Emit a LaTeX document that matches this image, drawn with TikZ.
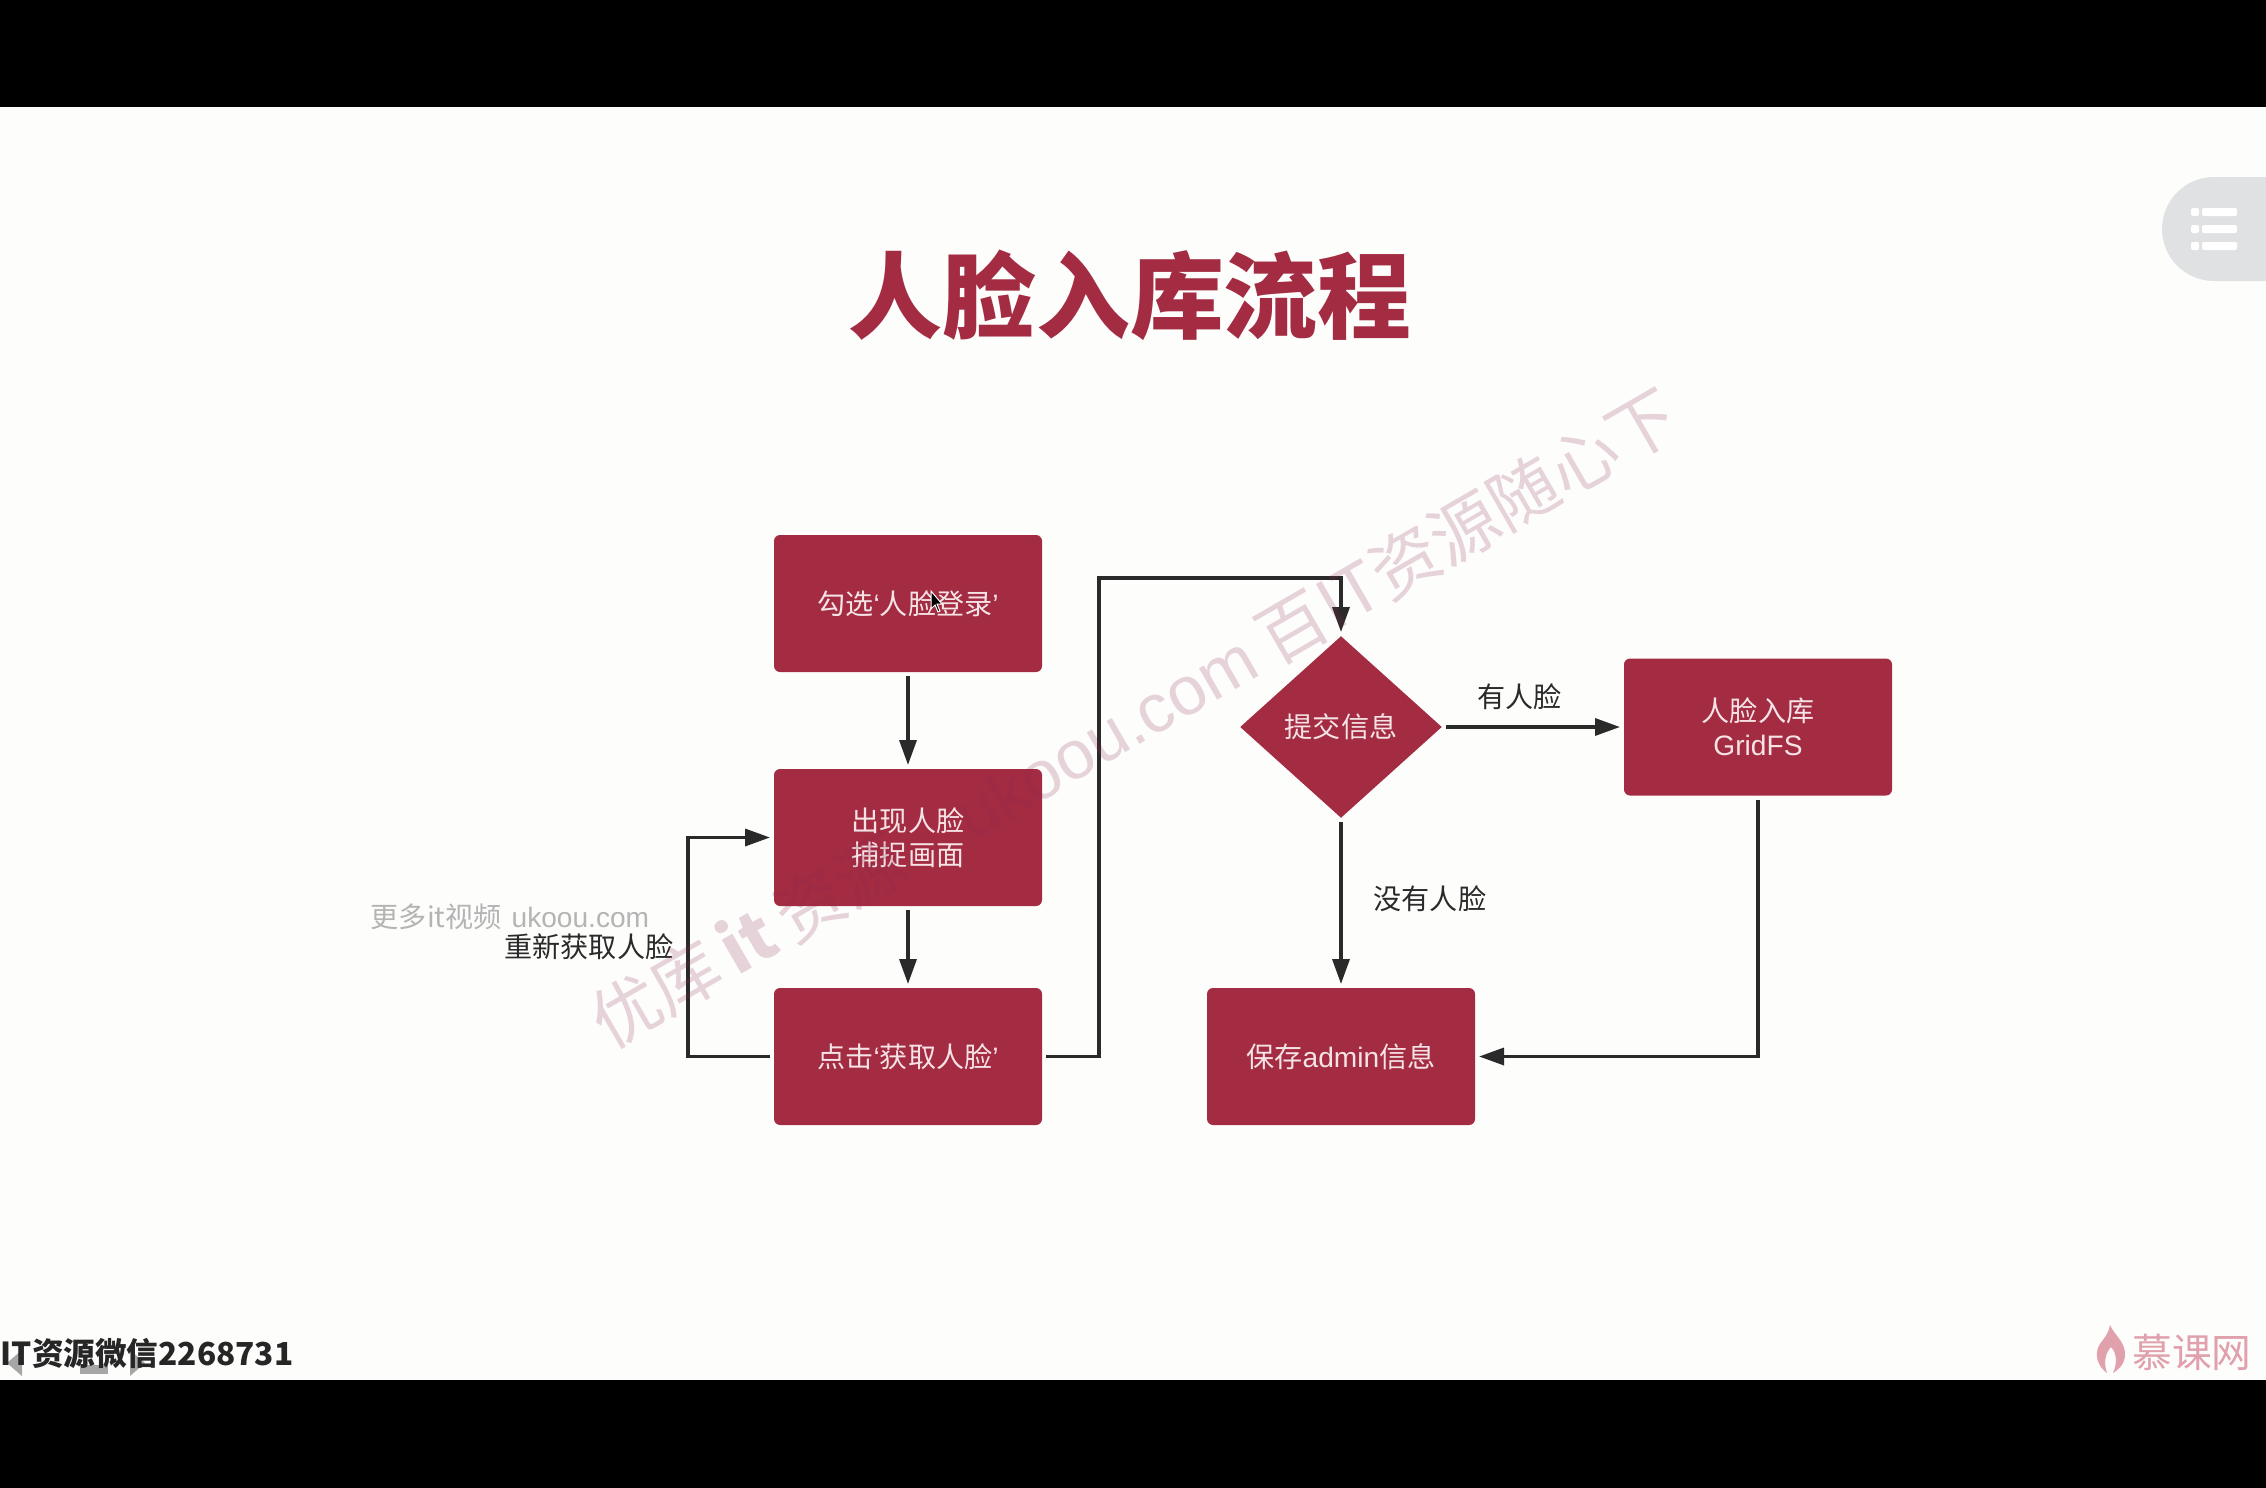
\documentclass[tikz,border=0pt]{standalone}
\usepackage{fontspec}
\setmainfont{Noto Sans CJK SC}
\newfontfamily\latinfont{Liberation Sans}
\usetikzlibrary{arrows.meta,positioning,shapes.geometric}
\definecolor{pagebg}{HTML}{FDFDFC}
\definecolor{nodered}{HTML}{A32B42}
\definecolor{nodetext}{HTML}{F5E3E5}
\definecolor{linedark}{HTML}{2A2A2A}
\definecolor{markpink}{HTML}{8A2A50}
\definecolor{markgrey}{HTML}{B4B4B4}
\definecolor{menugrey}{HTML}{E0E1E2}
\definecolor{logopink}{HTML}{E0A0AC}
\newcommand{\qopen}{{\latinfont ‘}}
\newcommand{\qclose}{{\latinfont ’}}

\begin{document}
\begin{tikzpicture}[
  x=0.1mm, y=-0.1mm,
  node distance=8.9mm and 15.7mm,
  flowbox/.style={fill=nodered, text=nodetext, rounded corners=0.6mm, minimum width=26.8mm, minimum height=13.7mm, align=center, outer sep=0.4mm, font=\fontsize{8}{9.7}\selectfont},
  flowdiamond/.style={diamond, fill=nodered, text=nodetext, minimum width=20.4mm, minimum height=18.4mm, inner sep=0pt, outer sep=0.3mm, font=\fontsize{8}{9.7}\selectfont},
  edgelabel/.style={inner sep=0pt, text=linedark, font=\fontsize{8}{9.7}\selectfont},
  arr/.style={-{Triangle[length=2.5mm,width=1.7mm]}, line width=0.34mm, draw=linedark},
]
  % Page
  \useasboundingbox (0,0) rectangle (2266,1488);
  \fill[black] (0,0) rectangle (2266,1488);
  \fill[pagebg] (0,107) rectangle (2266,1380);

  % Title
  \node[text=nodered, inner sep=0pt, font=\fontsize{26.7}{30}\selectfont\bfseries] (title) at (1130,295) {人脸入库流程};

  % Menu button
  \fill[menugrey] (2266,177) -- (2214,177) arc[start angle=270, end angle=90, radius=52] -- (2266,281) -- cycle;
  \foreach \yy in {212,229,246} {
    \fill[white, rounded corners=0.2mm] (2191,\yy-4) rectangle (2199,\yy+4);
    \fill[white, rounded corners=0.2mm] (2202,\yy-4) rectangle (2237,\yy+4);
  }

  % Boxes
  \node[flowbox] (select) at (908,603.5) {勾选\qopen 人脸登录\qclose};
  \node[flowbox, below=of select] (capture) {出现人脸\\捕捉画面};
  \node[flowbox, below=7.4mm of capture] (shoot) {点击\qopen 获取人脸\qclose};
  \node[flowbox, right=of shoot] (saveinfo) {保存{\latinfont admin}信息};
  \node[flowdiamond, above=16.2mm of saveinfo] (submit) {提交信息};
  \node[flowbox, right=17.4mm of submit] (gridfs) {人脸入库\\{\latinfont GridFS}};
  \coordinate[above=5.4mm of submit.north] (bend);

  % Connectors
  \draw[arr] (select) -- (capture);
  \draw[arr] (capture) -- (shoot);
  \draw[arr] (shoot.west) -- ++(-8.2mm,0) |- (capture.west);
  \draw[arr] (shoot.east) -- ++(5.3mm,0) |- (bend) -- (submit.north);
  \draw[arr] (submit) -- (gridfs);
  \draw[arr] (submit) -- (saveinfo);
  \draw[arr] (gridfs.south) |- (saveinfo.east);

  % Labels
  \node[edgelabel, above right=1.7mm and 3.1mm of submit.east] (yesface) {有人脸};
  \node[edgelabel, below right=6.3mm and 3.2mm of submit.south] (noface) {没有人脸};
  \node[edgelabel, left=9.6mm of capture.south west, yshift=-3.7mm] (retry) {重新获取人脸};

  % Watermarks
  \node[text=markgrey, inner sep=0pt, font=\fontsize{8}{9}\selectfont] (smallmark) at (510,917) {更多it视频\hspace{1mm}{\latinfont ukoou.com}};
  \node[text=markpink, opacity=0.2, inner sep=0pt, rotate=30, font=\fontsize{19.5}{22}\selectfont] (bigmark) at (1134,718) {优库\,\textbf{it}\,资源\hspace{7mm}{\latinfont ukoou.com}\hspace{1.5mm}百IT资源随心下};

  % Cursor
  \filldraw[black, draw=white, line width=0.1mm] (931,591) -- (931,609) -- (935,605) -- (938,612) -- (940,611) -- (937,604) -- (942,604) -- cycle;

  % Slide controls
  \fill[gray!70] (7,1363) -- (22,1350) -- (22,1376) -- cycle;
  \fill[gray!70] (80,1365) rectangle (108,1374);
  \fill[gray!70] (145,1363) -- (130,1350) -- (130,1376) -- cycle;
  \node[anchor=west, inner sep=0pt, text=black!85, font=\fontsize{9}{11}\selectfont\bfseries] (wechat) at (0,1353) {IT资源微信2268731};

  % Logo
  \fill[logopink] (2110,1325) .. controls (2114,1335) and (2126,1342) .. (2125,1356) .. controls (2124,1365) and (2118,1370) .. (2113,1373) .. controls (2118,1362) and (2116,1352) .. (2111,1347) .. controls (2106,1352) and (2103,1362) .. (2107,1373) .. controls (2100,1368) and (2096,1360) .. (2097,1352) .. controls (2098,1342) and (2108,1338) .. (2110,1325) -- cycle;
  \node[text=logopink, inner sep=0pt, font=\fontsize{11.3}{13}\selectfont] (logo) at (2192,1352) {慕课网};
\end{tikzpicture}
\end{document}
